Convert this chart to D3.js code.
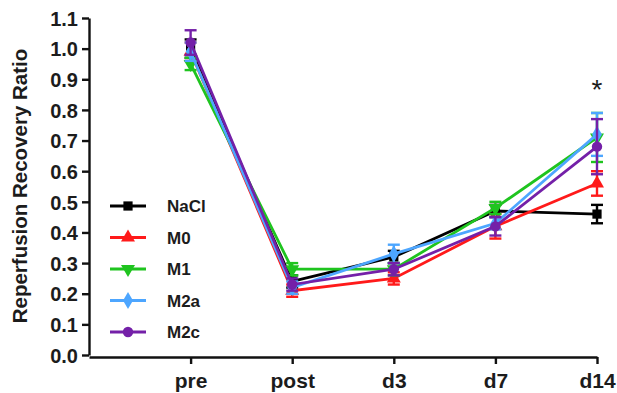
<!DOCTYPE html>
<html>
<head>
<meta charset="utf-8">
<script src="https://cdn.jsdelivr.net/npm/d3@7"></script>
<style>
  body { margin: 0; background: #fff; }
  text { font-family: "Liberation Sans", Arial, sans-serif; font-weight: bold; fill: #1c1c1c; }
</style>
</head>
<body>
<div id="chart"></div>
<script>
// time points
const timepoints = ["pre", "post", "d3", "d7", "d14"];
const yTicks = [0, 0.1, 0.2, 0.3, 0.4, 0.5, 0.6, 0.7, 0.8, 0.9, 1.0, 1.1];

const groups = ["NaCl", "M0", "M1", "M2a", "M2c"];
const colors = ["#000000", "#ff1a1a", "#1fc41f", "#4da6ff", "#7420a8"];
const symbols = [d3.symbolSquare, d3.symbolTriangle, "triDown", d3.symbolDiamond, d3.symbolCircle];

const naclMean = [1.00, 0.24, 0.32, 0.47, 0.46];
const naclErr  = [0.03, 0.02, 0.02, 0.02, 0.03];
const m0Mean   = [0.99, 0.21, 0.25, 0.42, 0.56];
const m0Err    = [0.03, 0.02, 0.02, 0.04, 0.04];
const m1Mean   = [0.95, 0.28, 0.28, 0.48, 0.71];
const m1Err    = [0.02, 0.02, 0.02, 0.02, 0.08];
const m2aMean  = [0.99, 0.22, 0.33, 0.43, 0.72];
const m2aErr   = [0.03, 0.02, 0.03, 0.02, 0.07];
const m2cMean  = [1.02, 0.23, 0.28, 0.42, 0.68];
const m2cErr   = [0.04, 0.02, 0.02, 0.03, 0.09];

const means = [naclMean, m0Mean, m1Mean, m2aMean, m2cMean];
const errs = [naclErr, m0Err, m1Err, m2aErr, m2cErr];

let width = 617, height = 393;

const svg = d3.select("#chart")
    .append("svg")
    .attr("width", width)
    .attr("height", height);

// x: one empty slot on the left of "pre"
const x = d3.scalePoint()
    .domain(["", ...timepoints])
    .range([89, 597]);

const y = d3.scaleLinear()
    .domain([0, 1.1])
    .range([355, 18]);

// y axis
const yAxis = svg.append("g")
    .attr("transform", "translate(89,0)")
    .call(d3.axisLeft(y).tickValues(yTicks).tickFormat(d3.format(".1f")).tickSize(7).tickSizeOuter(0));
yAxis.select(".domain").attr("stroke", "#111").attr("stroke-width", 2.4);
yAxis.selectAll(".tick line").attr("stroke", "#111").attr("stroke-width", 2.4);
yAxis.selectAll(".tick text")
    .attr("x", -11)
    .attr("dy", "0.36em")
    .style("font-size", "20px")
    .style("font-family", "'Liberation Sans', Arial, sans-serif")
    .style("font-weight", "bold")
    .attr("fill", "#1c1c1c");

// x axis
const xAxis = svg.append("g")
    .attr("transform", "translate(0,357)")
    .call(d3.axisBottom(x).tickValues(timepoints).tickSize(7).tickSizeOuter(0));
xAxis.select(".domain").attr("stroke", "#111").attr("stroke-width", 2.4);
xAxis.selectAll(".tick line").attr("stroke", "#111").attr("stroke-width", 2.4);
xAxis.selectAll(".tick text")
    .attr("y", 16)
    .style("font-size", "21px")
    .style("font-family", "'Liberation Sans', Arial, sans-serif")
    .style("font-weight", "bold")
    .attr("fill", "#1c1c1c");

// y title
svg.append("text")
    .attr("transform", "translate(27,186) rotate(-90)")
    .attr("text-anchor", "middle")
    .style("font-size", "20.5px")
    .text("Reperfusion Recovery Ratio");

function symbolPath(i, size) {
    if (symbols[i] === "triDown") {
        return d3.symbol().type(d3.symbolTriangle).size(size)();
    }
    return d3.symbol().type(symbols[i]).size(size)();
}
function symbolRotate(i) {
    return symbols[i] === "triDown" ? " rotate(180)" : "";
}

const line = d3.line()
    .x(d => x(d.t))
    .y(d => y(d.v));

groups.forEach((g, i) => {
    const pts = timepoints.map((t, j) => ({ t: t, v: means[i][j], e: errs[i][j] }));
    const grp = svg.append("g").attr("class", "series");

    // error bars
    const eb = grp.selectAll(".err")
        .data(pts)
        .join("g");
    eb.append("line")
        .attr("x1", d => x(d.t)).attr("x2", d => x(d.t))
        .attr("y1", d => y(d.v - d.e)).attr("y2", d => y(d.v + d.e))
        .attr("stroke", colors[i]).attr("stroke-width", 2.4);
    [-1, 1].forEach(s => {
        eb.append("line")
            .attr("x1", d => x(d.t) - 6).attr("x2", d => x(d.t) + 6)
            .attr("y1", d => y(d.v + s * d.e)).attr("y2", d => y(d.v + s * d.e))
            .attr("stroke", colors[i]).attr("stroke-width", 2.4);
    });

    grp.append("path")
        .datum(pts)
        .attr("d", line)
        .attr("fill", "none")
        .attr("stroke", colors[i])
        .attr("stroke-width", 2.8);

    grp.selectAll(".pt")
        .data(pts)
        .join("path")
        .attr("d", symbolPath(i, 85))
        .attr("transform", d => `translate(${x(d.t)},${y(d.v)})` + symbolRotate(i))
        .attr("fill", colors[i]);
});

// significance star
svg.append("text")
    .attr("x", x("d14"))
    .attr("y", 99)
    .attr("text-anchor", "middle")
    .style("font-size", "28px")
    .style("font-weight", "normal")
    .text("*");

// legend
const legend = svg.append("g");
groups.forEach((g, i) => {
    const ly = 206 + i * 31.5;
    legend.append("line")
        .attr("x1", 110).attr("x2", 146)
        .attr("y1", ly).attr("y2", ly)
        .attr("stroke", colors[i]).attr("stroke-width", 2.8);
    legend.append("path")
        .attr("d", symbolPath(i, 85))
        .attr("transform", `translate(128,${ly})` + symbolRotate(i))
        .attr("fill", colors[i]);
    legend.append("text")
        .attr("x", 167)
        .attr("y", ly)
        .attr("dy", "0.36em")
        .style("font-size", "17px")
        .text(g);
});
</script>
</body>
</html>
